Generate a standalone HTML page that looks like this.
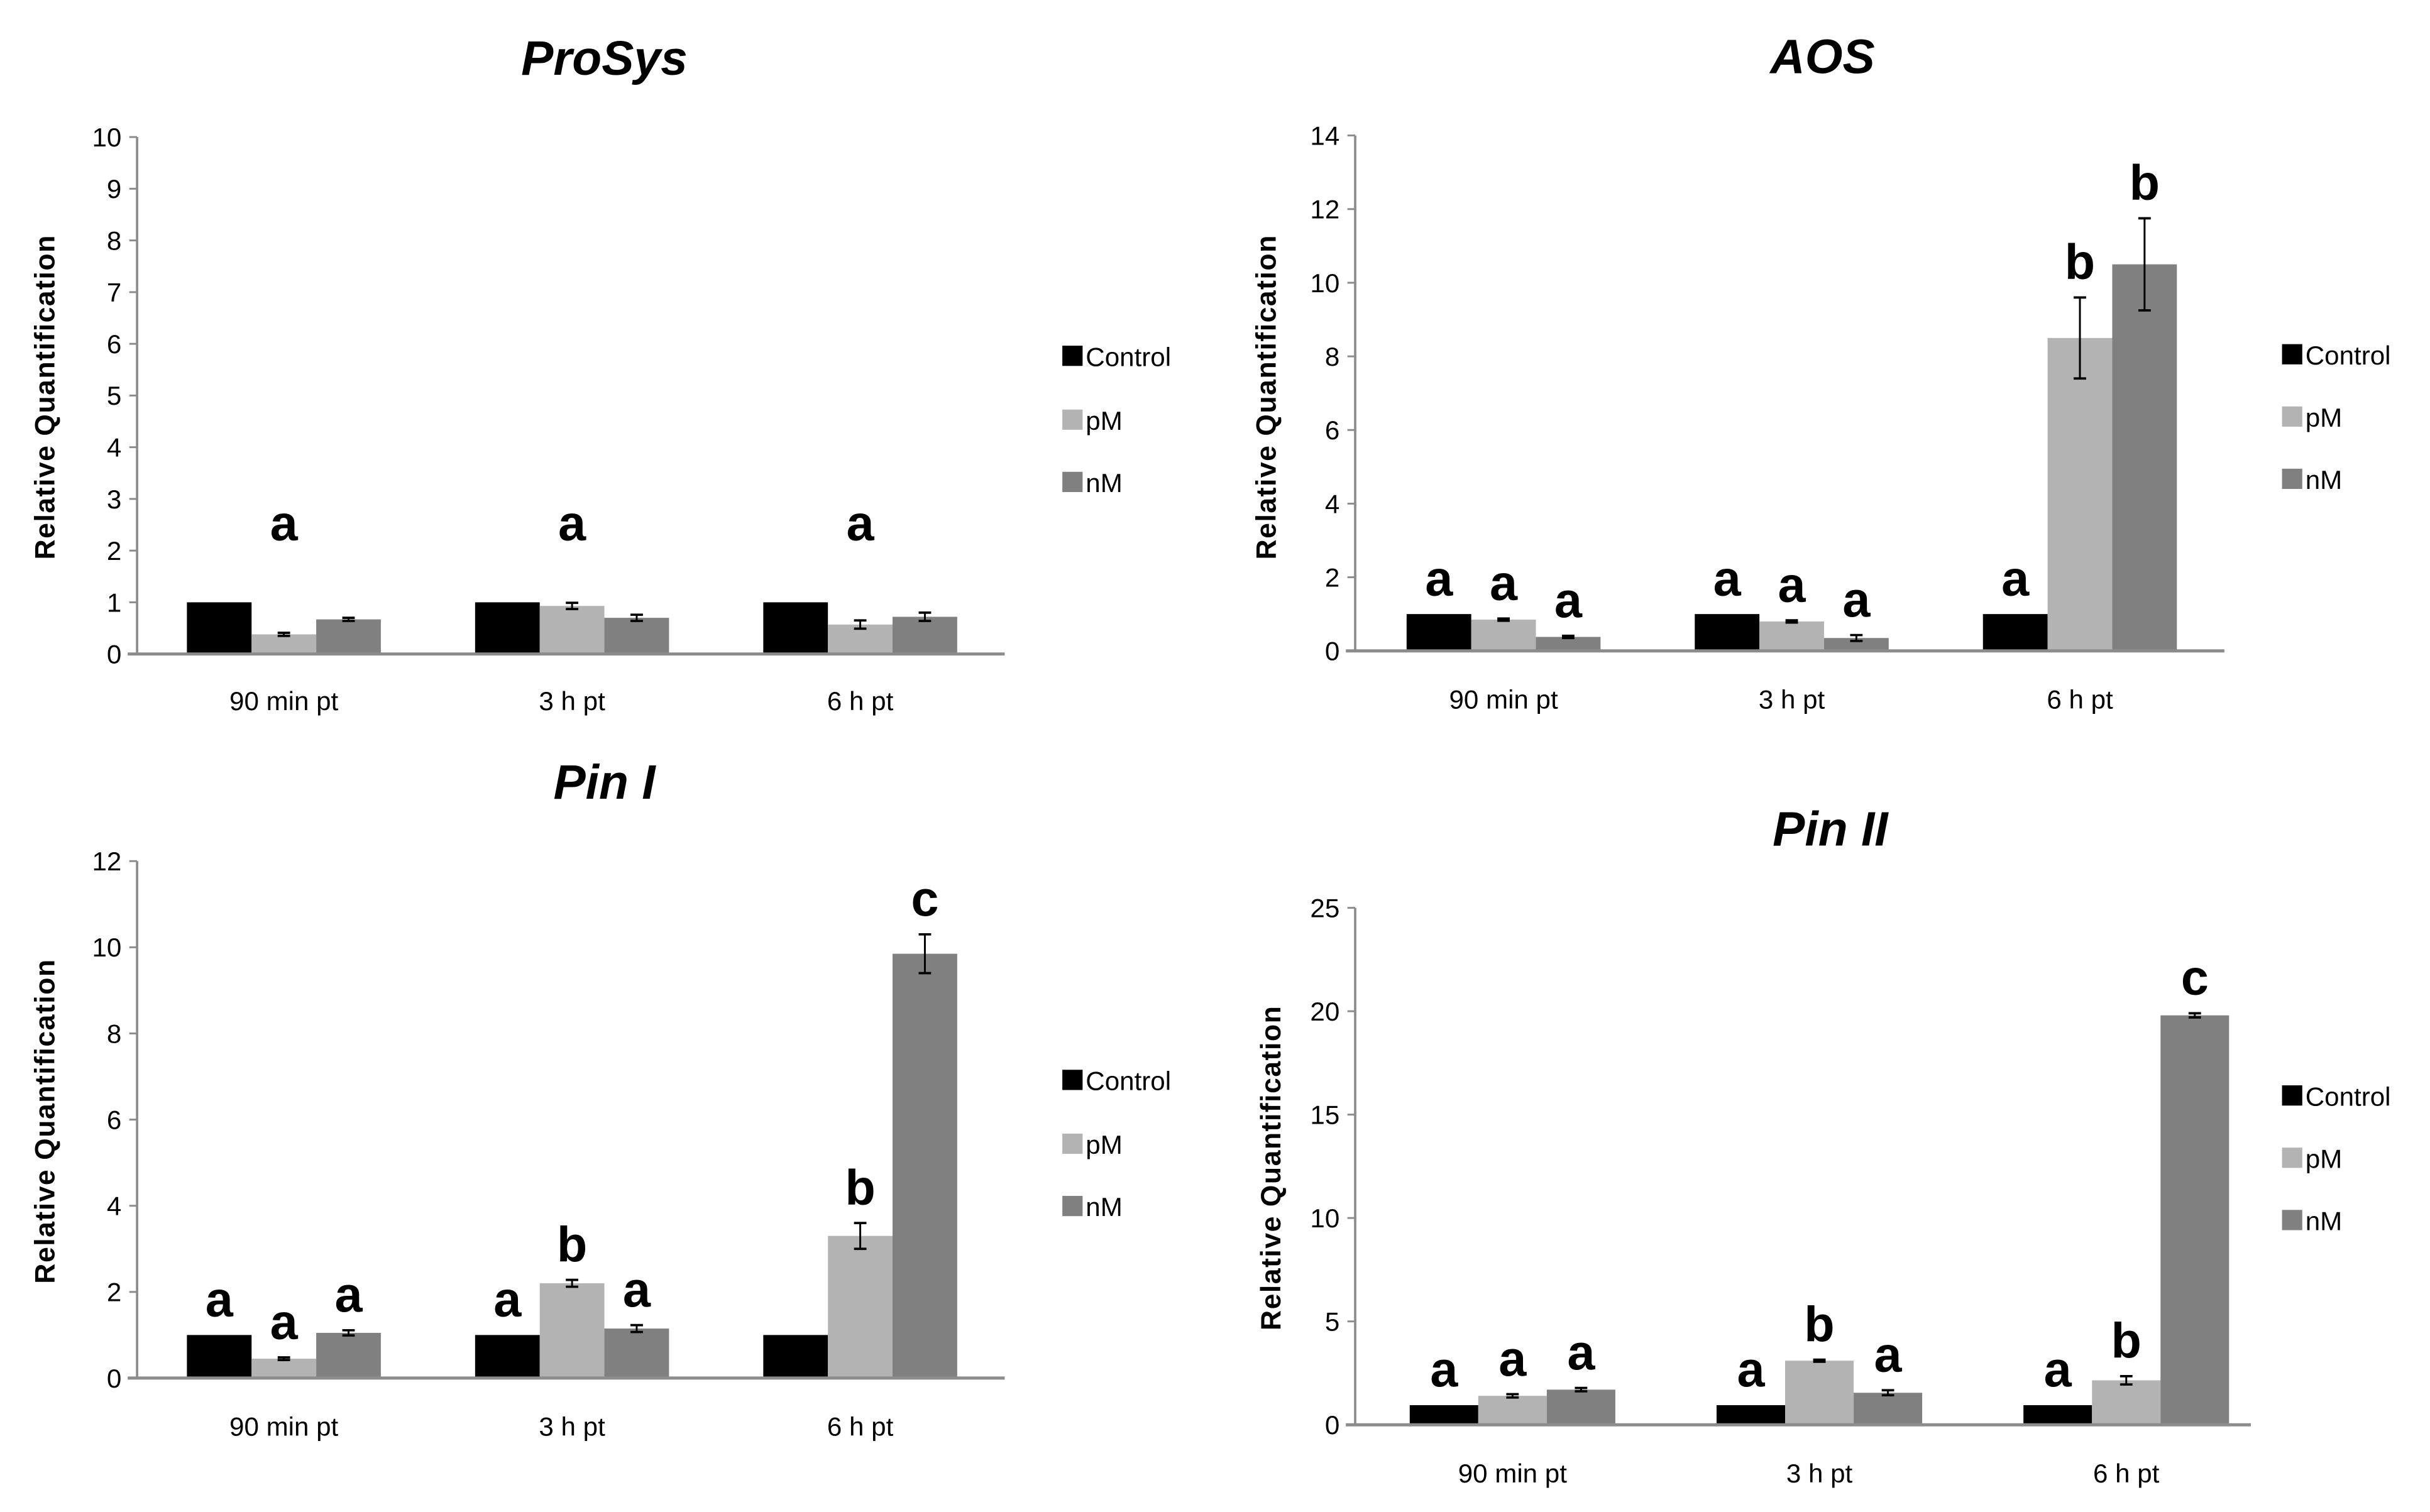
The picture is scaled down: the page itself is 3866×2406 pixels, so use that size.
<!DOCTYPE html>
<html><head><meta charset="utf-8"><style>
html,body{margin:0;padding:0;background:#fff}
svg{display:block}
text{font-family:"Liberation Sans",sans-serif}
</style></head><body>
<svg id="fig" width="3866" height="2406" viewBox="0 0 1560 971" preserveAspectRatio="none" xmlns="http://www.w3.org/2000/svg"></svg>
<script>
const categories = ["90 min pt","3 h pt","6 h pt"];
const seriesNames = ["Control","pM","nM"];
const prosysControl=[1,1,1], prosysPM=[0.38,0.93,0.57], prosysNM=[0.67,0.70,0.72];
const prosysErrPM=[0.03,0.06,0.08], prosysErrNM=[0.03,0.06,0.08];
const aosControl=[1,1,1], aosPM=[0.85,0.80,8.5], aosNM=[0.38,0.35,10.5];
const aosErrPM=[0.03,0.03,1.1], aosErrNM=[0.03,0.08,1.25];
const pin1Control=[1,1,1], pin1PM=[0.45,2.2,3.3], pin1NM=[1.05,1.15,9.85];
const pin1ErrPM=[0.03,0.08,0.3], pin1ErrNM=[0.06,0.08,0.45];
const pin2Control=[0.95,0.95,0.95], pin2PM=[1.4,3.1,2.15], pin2NM=[1.7,1.55,19.8];
const pin2ErrPM=[0.08,0.05,0.2], pin2ErrNM=[0.08,0.12,0.1];
const aosLetters=[["a","a","a"],["a","a","a"],["a","b","b"]];
const pin1Letters=[["a","a","a"],["a","b","a"],["","b","c"]];
const pin2Letters=[["a","a","a"],["a","b","a"],["a","b","c"]];
const prosysGroupLetters=["a","a","a"];
const prosysLetterValue=2.2;
const prosysTicks=[0,1,2,3,4,5,6,7,8,9,10];
const aosTicks=[0,2,4,6,8,10,12,14];
const pin1Ticks=[0,2,4,6,8,10,12];
const pin2Ticks=[0,5,10,15,20,25];

const NS="http://www.w3.org/2000/svg";
const svg=document.getElementById('fig');
const colors=["#000000","#b3b3b3","#808080"];
function mk(tag,attrs,parent,txt){const e=document.createElementNS(NS,tag);for(const k in attrs)e.setAttribute(k,attrs[k]);if(txt!==undefined)e.textContent=txt;(parent||svg).appendChild(e);return e;}

function panel(cfg){
  const g=mk('g',{});
  
  
  const ymax=cfg.ticks[cfg.ticks.length-1];
  const y=v=>cfg.y0-(v/ymax)*(cfg.y0-cfg.yTop);
  const t=mk('text',{x:cfg.titleX,y:cfg.titleY,'text-anchor':'middle','font-size':31,'font-weight':'bold','font-style':'italic'},g,cfg.title);
  
  
  const yt=mk('text',{x:0,y:0,'text-anchor':'middle','font-size':18,'font-weight':'bold','letter-spacing':0.6,transform:`translate(${cfg.yTitleX},${cfg.yTitleY}) rotate(-90)`},g,"Relative Quantification");
  
  
  mk('line',{x1:cfg.axisX,y1:cfg.yTop,x2:cfg.axisX,y2:cfg.y0,stroke:'#8c8c8c','stroke-width':1.5},g);
  cfg.ticks.forEach(v=>{
    mk('line',{x1:cfg.axisX-5,y1:y(v),x2:cfg.axisX,y2:y(v),stroke:'#8c8c8c','stroke-width':1.2},g);
    const tl=mk('text',{x:cfg.axisX-10,y:y(v)+6,'text-anchor':'end','font-size':17},g,String(v));
    
    
  });
  const series=[cfg.control,cfg.pm,cfg.nm];
  const errs=[null,cfg.errPM,cfg.errNM];
  categories.forEach((c,i)=>{
    const gs=cfg.groupStarts[i];
    for(let s=0;s<3;s++){
      const v=series[s][i];
      const bx=gs+s*cfg.bw;
      const r=mk('rect',{x:bx,y:y(v),width:cfg.bw,height:cfg.y0-y(v),fill:colors[s]},g);
      
      
      let top=v;
      if(errs[s]){
        const e=errs[s][i];top=v+e;
        const cx=bx+cfg.bw/2;
        mk('line',{x1:cx,y1:y(v+e),x2:cx,y2:y(v-e),stroke:'#000','stroke-width':1.2},g);
        mk('line',{x1:cx-4,y1:y(v+e),x2:cx+4,y2:y(v+e),stroke:'#000','stroke-width':1.5},g);
        mk('line',{x1:cx-4,y1:y(v-e),x2:cx+4,y2:y(v-e),stroke:'#000','stroke-width':1.5},g);
      }
      if(cfg.letters && cfg.letters[i][s]){
        const l=mk('text',{x:bx+cfg.bw/2,y:y(top)-12,'text-anchor':'middle','font-size':32,'font-weight':'bold'},g,cfg.letters[i][s]);
        
        
      }
    }
    if(cfg.groupLetters){
      const l=mk('text',{x:gs+cfg.bw*1.5,y:y(cfg.groupLetterValue),'text-anchor':'middle','font-size':32,'font-weight':'bold'},g,cfg.groupLetters[i]);
      
      
    }
    const xl=mk('text',{x:gs+cfg.bw*1.5,y:cfg.xLabelY,'text-anchor':'middle','font-size':17},g,c);
    
    
  });
  mk('line',{x1:cfg.axisX-6,y1:cfg.y0,x2:cfg.right,y2:cfg.y0,stroke:'#8c8c8c','stroke-width':2},g);
  seriesNames.forEach((n,s)=>{
    const ly=cfg.legendYs[s];
    const sq=mk('rect',{x:cfg.legendX,y:ly-7,width:13,height:13,fill:colors[s]},g);
    
    
    const lt=mk('text',{x:cfg.legendX+15,y:ly+6,'font-size':17},g,n);
    
    
  });
}
const bw=41.5;
panel({id:'prosys',title:'ProSys',titleX:388,titleY:48,ticks:prosysTicks,axisX:88,y0:420,yTop:88,right:645,
  groupStarts:[120,305,490],bw:bw,control:prosysControl,pm:prosysPM,nm:prosysNM,errPM:prosysErrPM,errNM:prosysErrNM,
  groupLetters:prosysGroupLetters,groupLetterValue:prosysLetterValue,xLabelY:456,legendX:682,legendYs:[229,270,310],yTitleX:35,yTitleY:255});
panel({id:'aos',title:'AOS',titleX:1170,titleY:47,ticks:aosTicks,axisX:870,y0:418,yTop:87,right:1428,
  groupStarts:[903,1088,1273],bw:bw,control:aosControl,pm:aosPM,nm:aosNM,errPM:aosErrPM,errNM:aosErrNM,
  letters:aosLetters,xLabelY:455,legendX:1465,legendYs:[228,268,308],yTitleX:819,yTitleY:255});
panel({id:'pin1',title:'Pin I',titleX:388,titleY:513,ticks:pin1Ticks,axisX:88,y0:885,yTop:553,right:645,
  groupStarts:[120,305,490],bw:bw,control:pin1Control,pm:pin1PM,nm:pin1NM,errPM:pin1ErrPM,errNM:pin1ErrNM,
  letters:pin1Letters,xLabelY:922,legendX:682,legendYs:[694,735,775],yTitleX:35,yTitleY:720});
panel({id:'pin2',title:'Pin II',titleX:1175,titleY:543,ticks:pin2Ticks,axisX:870,y0:915,yTop:583,right:1445,
  groupStarts:[905,1102,1299],bw:44,control:pin2Control,pm:pin2PM,nm:pin2NM,errPM:pin2ErrPM,errNM:pin2ErrNM,
  letters:pin2Letters,xLabelY:952,legendX:1465,legendYs:[704,744,784],yTitleX:822,yTitleY:750});
</script>
</body></html>
